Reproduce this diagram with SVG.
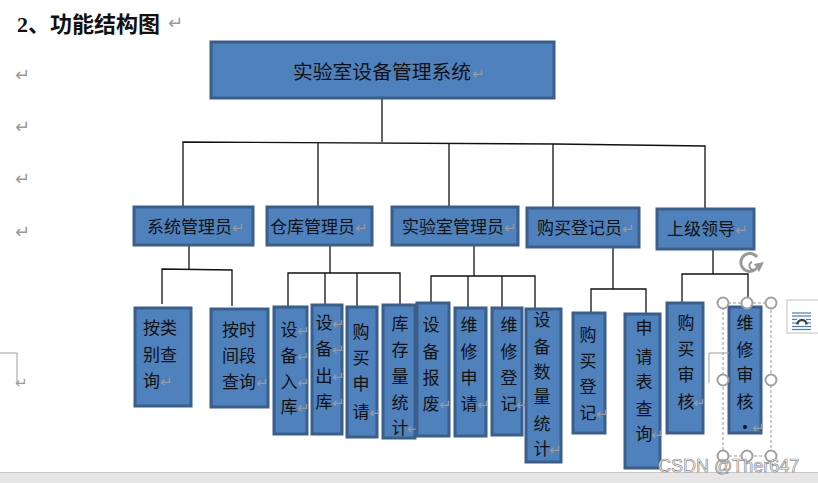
<svg xmlns="http://www.w3.org/2000/svg" width="818" height="483" viewBox="0 0 818 483">
<style>
.box{fill:#4f81bd;stroke:#3a5f8c;stroke-width:3}
.t{font-family:"Noto Sans CJK SC","Noto Sans",sans-serif;font-size:17px;fill:#111}
.tm{font-family:"Noto Sans CJK SC","Noto Sans",sans-serif;font-size:17px;fill:#111;text-anchor:middle}
.r{font-family:"DejaVu Sans",sans-serif;font-size:15px;fill:#9a9a9a}
.rl{font-family:"DejaVu Sans",sans-serif;font-size:18px;fill:#9a9a9a}
.c line,.c polyline{stroke:#111;stroke-width:1.3;fill:none}
.h{fill:#fff;stroke:#a0a0a0;stroke-width:2}
</style>
<rect width="818" height="483" fill="#fff"/>

<!-- title and margin marks -->
<text x="17" y="32" font-family="Liberation Serif,'Noto Sans CJK SC',serif" font-size="22" font-weight="bold" fill="#111">2、功能结构图</text>
<text x="168" y="29" class="rl">↵</text>
<text x="15" y="81" class="rl">↵</text>
<text x="15" y="133" class="rl">↵</text>
<text x="15" y="185" class="rl">↵</text>
<text x="15" y="238" class="rl">↵</text>
<polyline points="0,353 17,353 17,382" fill="none" stroke="#a0a0a0" stroke-width="1"/>
<text x="15" y="388" class="r">↵</text>

<!-- connectors -->
<g class="c" id="connectors">
<line x1="382" y1="98" x2="382" y2="142"/>
<polyline points="183,207 183,142 555,144 705,146 705,209"/>
<line x1="318" y1="143" x2="318" y2="207"/>
<line x1="449" y1="143" x2="449" y2="207"/>
<line x1="553" y1="144" x2="553" y2="208"/>
<line x1="189" y1="245" x2="189" y2="269"/>
<polyline points="162,304 162,269 232,270 232,306"/>
<line x1="330" y1="245" x2="330" y2="273"/>
<polyline points="288,307 288,273 400,273 400,305"/>
<line x1="325" y1="273" x2="325" y2="305"/>
<line x1="357" y1="273" x2="357" y2="307"/>
<line x1="474" y1="245" x2="474" y2="276"/>
<polyline points="431,303 431,276 535,276 535,309"/>
<line x1="468" y1="276" x2="468" y2="308"/>
<line x1="502" y1="276" x2="502" y2="308"/>
<line x1="613" y1="247" x2="613" y2="289"/>
<polyline points="591,313 591,289 646,289 646,314"/>
<line x1="713" y1="249" x2="713" y2="274"/>
<polyline points="682,303 682,274 748,274 748,307"/>
</g>

<!-- top node -->
<g id="n-root">
<rect class="box" x="211" y="42" width="343" height="56"/>
<text x="293" y="79" class="t" style="font-size:19.8px">实验室设备管理系统</text>
<text x="472" y="79" class="r">↵</text>
</g>

<!-- level 2 -->
<g id="n-sysadmin">
<rect class="box" x="134" y="207" width="119" height="38"/>
<text x="147" y="233" class="t">系统管理员</text><text x="232" y="233" class="r">↵</text>
</g>
<g id="n-wareadmin">
<rect class="box" x="267" y="207" width="105" height="38"/>
<text x="270" y="233" class="t">仓库管理员</text><text x="355" y="233" class="r">↵</text>
</g>
<g id="n-labadmin">
<rect class="box" x="392" y="207" width="126" height="38"/>
<text x="402" y="233" class="t">实验室管理员</text><text x="504" y="233" class="r">↵</text>
</g>
<g id="n-buyer">
<rect class="box" x="527" y="208" width="112" height="39"/>
<text x="537" y="234" class="t">购买登记员</text><text x="622" y="234" class="r">↵</text>
</g>
<g id="n-leader">
<rect class="box" x="657" y="209" width="97" height="40"/>
<text x="667" y="235" class="t">上级领导</text><text x="735" y="235" class="r">↵</text>
</g>

<!-- level 3 -->
<g id="n-q-type">
<rect class="box" x="135" y="308" width="56" height="98"/>
<text x="143" y="334" class="t">按类</text>
<text x="143" y="361" class="t">别查</text>
<text x="143" y="387" class="t">询</text><text x="160" y="387" class="r">↵</text>
</g>
<g id="n-q-time">
<rect class="box" x="211" y="309" width="57" height="98"/>
<text x="222" y="336" class="t">按时</text>
<text x="222" y="362" class="t">间段</text>
<text x="222" y="388" class="t">查询</text><text x="256" y="388" class="r">↵</text>
</g>
<g id="n-in">
<rect class="box" x="274" y="307" width="33" height="127"/>
<text x="289" y="336" class="tm">设</text><text x="297" y="336" class="r">↵</text>
<text x="289" y="362" class="tm">备</text><text x="297" y="362" class="r">↵</text>
<text x="289" y="388" class="tm">入</text><text x="297" y="388" class="r">↵</text>
<text x="289" y="413" class="tm">库</text><text x="297" y="413" class="r">↵</text>
</g>
<g id="n-out">
<rect class="box" x="312" y="305" width="30" height="129"/>
<text x="324" y="329" class="tm">设</text><text x="332" y="329" class="r">↵</text>
<text x="324" y="355" class="tm">备</text><text x="332" y="355" class="r">↵</text>
<text x="324" y="382" class="tm">出</text><text x="332" y="382" class="r">↵</text>
<text x="324" y="408" class="tm">库</text><text x="332" y="408" class="r">↵</text>
</g>
<g id="n-buyreq">
<rect class="box" x="347" y="307" width="30" height="130"/>
<text x="361" y="338" class="tm">购</text>
<text x="361" y="364" class="tm">买</text>
<text x="361" y="390" class="tm">申</text>
<text x="361" y="418" class="tm">请</text><text x="369" y="418" class="r">↵</text>
</g>
<g id="n-stock">
<rect class="box" x="383" y="305" width="32" height="133"/>
<text x="400" y="330" class="tm">库</text>
<text x="400" y="356" class="tm">存</text>
<text x="400" y="383" class="tm">量</text>
<text x="400" y="409" class="tm">统</text>
<text x="400" y="434" class="tm">计</text><text x="407" y="434" class="r">↵</text>
</g>
<g id="n-scrap">
<rect class="box" x="417" y="303" width="32" height="133"/>
<text x="431" y="331" class="tm">设</text>
<text x="431" y="358" class="tm">备</text>
<text x="431" y="384" class="tm">报</text>
<text x="431" y="410" class="tm">废</text><text x="439" y="410" class="r">↵</text>
</g>
<g id="n-repreq">
<rect class="box" x="455" y="308" width="31" height="128"/>
<text x="469" y="331" class="tm">维</text>
<text x="469" y="358" class="tm">修</text>
<text x="469" y="384" class="tm">申</text>
<text x="469" y="410" class="tm">请</text><text x="477" y="410" class="r">↵</text>
</g>
<g id="n-repreg">
<rect class="box" x="492" y="308" width="30" height="127"/>
<text x="509" y="331" class="tm">维</text>
<text x="509" y="358" class="tm">修</text>
<text x="509" y="384" class="tm">登</text>
<text x="509" y="410" class="tm">记</text><text x="516" y="410" class="r">↵</text>
</g>
<g id="n-count">
<rect class="box" x="526" y="309" width="35" height="153"/>
<text x="542" y="326" class="tm">设</text>
<text x="542" y="353" class="tm">备</text>
<text x="542" y="378" class="tm">数</text>
<text x="542" y="403" class="tm">量</text>
<text x="542" y="430" class="tm">统</text>
<text x="542" y="455" class="tm">计</text><text x="549" y="455" class="r">↵</text>
</g>
<g id="n-buyreg">
<rect class="box" x="573" y="313" width="32" height="120"/>
<text x="588" y="341" class="tm">购</text>
<text x="588" y="367" class="tm">买</text>
<text x="588" y="393" class="tm">登</text>
<text x="588" y="419" class="tm">记</text><text x="596" y="419" class="r">↵</text>
</g>
<g id="n-formq">
<rect class="box" x="625" y="314" width="35" height="154"/>
<text x="644" y="334" class="tm">申</text>
<text x="644" y="363" class="tm">请</text>
<text x="644" y="388" class="tm">表</text>
<text x="644" y="415" class="tm">查</text>
<text x="644" y="440" class="tm">询</text><text x="651" y="440" class="r">↵</text>
</g>
<g id="n-buyaudit">
<rect class="box" x="667" y="303" width="36" height="130"/>
<text x="686" y="329" class="tm">购</text>
<text x="686" y="355" class="tm">买</text>
<text x="686" y="381" class="tm">审</text>
<text x="686" y="408" class="tm">核</text><text x="693" y="408" class="r">↵</text>
</g>
<g id="n-repaudit">
<rect class="box" x="729" y="307" width="32" height="126"/>
<text x="745" y="329" class="tm">维</text>
<text x="745" y="356" class="tm">修</text>
<text x="745" y="381" class="tm">审</text>
<text x="745" y="408" class="tm">核</text>
<circle cx="745" cy="427" r="2" fill="#111"/>
<text x="752" y="433" class="r">↵</text>
</g>

<!-- editor selection overlay -->
<g id="selection">
<polyline points="709,383 709,353 729,353" fill="none" stroke="#a0a0a0" stroke-width="1"/>
<rect x="723" y="303" width="48" height="153" fill="none" stroke="#999" stroke-width="1" stroke-dasharray="3,2"/>
<circle class="h" cx="723" cy="303" r="5.5"/><circle class="h" cx="747" cy="303" r="5.5"/><circle class="h" cx="771" cy="303" r="5.5"/>
<circle class="h" cx="723" cy="380" r="5.5"/><circle class="h" cx="771" cy="380" r="5.5"/>
<circle class="h" cx="723" cy="456" r="5.5"/><circle class="h" cx="747" cy="456" r="5.5"/><circle class="h" cx="771" cy="456" r="5.5"/>
<path d="M757,257 A9,9 0 1 0 756,269" fill="none" stroke="#999" stroke-width="3"/>
<path d="M752,262 A4,4 0 1 0 757,264" fill="none" stroke="#999" stroke-width="2"/>
<polygon points="754,264 764,262 759,272" fill="#999"/>
</g>
<g id="layout-icon">
<rect x="787" y="300" width="40" height="33" fill="#fff" stroke="#c0c0c0" stroke-width="1"/>
<g stroke="#4a7ebb" stroke-width="1.2">
<line x1="792" y1="313" x2="811" y2="313"/>
<line x1="792" y1="316" x2="811" y2="316"/>
<line x1="792" y1="319.5" x2="797" y2="319.5"/><line x1="806" y1="319.5" x2="811" y2="319.5"/>
<line x1="792" y1="323" x2="797" y2="323"/><line x1="806" y1="323" x2="811" y2="323"/>
<line x1="792" y1="326.5" x2="811" y2="326.5"/>
<line x1="792" y1="329.5" x2="811" y2="329.5"/>
</g>
<path d="M797.5,324.5 A4.5,4.5 0 0 1 806.5,324.5" fill="none" stroke="#444" stroke-width="2.5"/>
</g>

<!-- bottom bar and watermark -->
<rect x="0" y="472" width="818" height="11" fill="#e6e6e6"/>
<line x1="0" y1="472.5" x2="818" y2="472.5" stroke="#c8c8c8" stroke-width="1"/>
<text x="658" y="472" font-family="Liberation Sans,Arial,sans-serif" font-size="18" fill="#fff" stroke="#8c8c8c" stroke-width="0.7">CSDN @Ther647</text>
</svg>
